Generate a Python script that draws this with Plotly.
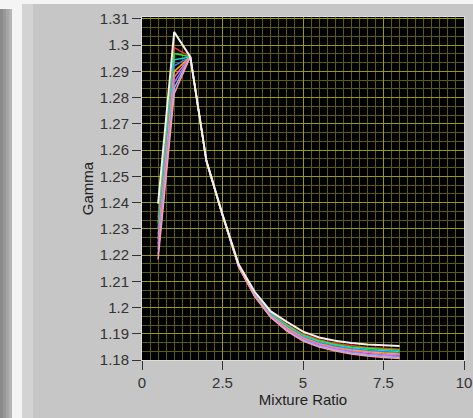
import plotly.graph_objects as go

# ---------------- data ----------------
mixture_ratio = [0.5, 1.0, 1.5, 2.0, 2.5, 3.0, 3.5, 4.0, 4.5, 5.0, 5.5, 6.0, 6.5, 7.0, 7.5, 8.0]

gamma_0 = [1.2396, 1.3050, 1.2955, 1.2560, 1.2355, 1.2165, 1.2060, 1.1985, 1.1945, 1.1908, 1.1886, 1.1873, 1.1865, 1.1859, 1.1856, 1.1853]
gamma_1 = [1.2343, 1.2991, 1.2955, 1.2559, 1.2354, 1.2163, 1.2056, 1.1979, 1.1936, 1.1899, 1.1877, 1.1863, 1.1855, 1.1848, 1.1845, 1.1841]
gamma_2 = [1.2321, 1.2968, 1.2955, 1.2559, 1.2353, 1.2162, 1.2054, 1.1977, 1.1933, 1.1895, 1.1873, 1.1859, 1.1850, 1.1844, 1.1840, 1.1837]
gamma_3 = [1.2300, 1.2944, 1.2955, 1.2559, 1.2353, 1.2161, 1.2052, 1.1975, 1.1929, 1.1892, 1.1869, 1.1855, 1.1846, 1.1839, 1.1835, 1.1832]
gamma_4 = [1.2279, 1.2921, 1.2955, 1.2558, 1.2352, 1.2160, 1.2050, 1.1972, 1.1926, 1.1888, 1.1866, 1.1852, 1.1842, 1.1835, 1.1831, 1.1827]
gamma_5 = [1.2260, 1.2900, 1.2955, 1.2558, 1.2352, 1.2159, 1.2048, 1.1970, 1.1923, 1.1885, 1.1862, 1.1848, 1.1838, 1.1831, 1.1827, 1.1823]
gamma_6 = [1.2240, 1.2878, 1.2955, 1.2558, 1.2351, 1.2158, 1.2047, 1.1968, 1.1919, 1.1882, 1.1859, 1.1845, 1.1834, 1.1827, 1.1822, 1.1819]
gamma_7 = [1.2221, 1.2857, 1.2955, 1.2558, 1.2351, 1.2157, 1.2045, 1.1966, 1.1916, 1.1878, 1.1856, 1.1841, 1.1831, 1.1823, 1.1818, 1.1814]
gamma_8 = [1.2202, 1.2836, 1.2955, 1.2557, 1.2350, 1.2156, 1.2044, 1.1964, 1.1913, 1.1875, 1.1852, 1.1838, 1.1827, 1.1819, 1.1814, 1.1810]
gamma_9 = [1.2183, 1.2815, 1.2955, 1.2557, 1.2350, 1.2155, 1.2042, 1.1962, 1.1910, 1.1872, 1.1849, 1.1834, 1.1823, 1.1815, 1.1810, 1.1806]

series = [gamma_0, gamma_1, gamma_2, gamma_3, gamma_4, gamma_5, gamma_6, gamma_7, gamma_8, gamma_9]
series_colors = ["#f2f2f2", "#ff3030", "#20f020", "#00e0e0", "#4a78ff",
                 "#ffb000", "#ff70c0", "#b070ff", "#80c0ff", "#ff9aa8"]

y_tickvals = [1.18, 1.19, 1.2, 1.21, 1.22, 1.23, 1.24, 1.25, 1.26, 1.27, 1.28, 1.29, 1.3, 1.31]
y_ticktext = ["1.18", "1.19", "1.2", "1.21", "1.22", "1.23", "1.24", "1.25", "1.26", "1.27", "1.28", "1.29", "1.3", "1.31"]
x_tickvals = [0, 2.5, 5, 7.5, 10]
x_ticktext = ["0", "2.5", "5", "7.5", "10"]

# ---------------- figure ----------------
W, H = 473, 418
L, R, T, B = 142, 9, 17, 58
PW, PH = W - L - R, H - T - B

fig = go.Figure()
# colored first, white on top
for i in list(range(1, len(series))) + [0]:
    fig.add_trace(go.Scatter(
        x=mixture_ratio, y=series[i], mode="lines",
        line=dict(color=series_colors[i], width=2 if i == 0 else 1.5),
        showlegend=False, hoverinfo="skip"))


def px_rect(x0, y0, x1, y1, color):
    return dict(type="rect", xref="paper", yref="paper",
                x0=(x0 - L) / PW, x1=(x1 - L) / PW,
                y0=(H - B - y1) / PH, y1=(H - B - y0) / PH,
                fillcolor=color, line=dict(width=0), layer="below")


shapes = [
    px_rect(0, 0, 473, 4, "#f4f4f4"),
    px_rect(0, 0, 22, 418, "#f4f4f4"),
    px_rect(0, 9, 3, 418, "#8a8a8a"),
    px_rect(3, 9, 6, 418, "#979797"),
    px_rect(6, 9, 9, 418, "#a5a5a5"),
    px_rect(9, 9, 12, 418, "#b4b4b4"),
    px_rect(22, 4, 33, 418, "#d3d3d3"),
]

font_fam = "Liberation Sans, Arial, sans-serif"
fig.update_layout(
    width=W, height=H,
    margin=dict(l=L, r=R, t=T, b=B, pad=0),
    paper_bgcolor="#c6c6c6",
    plot_bgcolor="#000000",
    shapes=shapes,
    font=dict(family=font_fam, size=15, color="#2a2a2a"),
    xaxis=dict(
        range=[0, 10], tickvals=x_tickvals, ticktext=x_ticktext,
        ticks="outside", ticklen=9, tickwidth=1, tickcolor="#333333",
        showline=True, linecolor="#dcdcdc", linewidth=1, mirror=True,
        showgrid=True, gridcolor="#9a9a0c", gridwidth=1,
        minor=dict(dtick=0.25, showgrid=True, gridcolor="#5c5c06", gridwidth=1, ticks=""),
        zeroline=False, tickfont=dict(size=15, color="#333333"),
        title=dict(text="Mixture Ratio", font=dict(size=15, color="#222222"), standoff=4),
        automargin=False,
    ),
    yaxis=dict(
        range=[1.18, 1.3107], tickvals=y_tickvals, ticktext=y_ticktext,
        ticks="outside", ticklen=9, tickwidth=1, tickcolor="#333333",
        showline=True, linecolor="#dcdcdc", linewidth=1, mirror=True,
        showgrid=True, gridcolor="#9a9a0c", gridwidth=1,
        minor=dict(dtick=0.01 / 3, showgrid=True, gridcolor="#5c5c06", gridwidth=1, ticks=""),
        zeroline=False, tickfont=dict(size=15, color="#333333"),
        title=dict(text="Gamma", font=dict(size=15, color="#222222"), standoff=2),
        automargin=False,
    ),
)

fig.write_html("out.html")
